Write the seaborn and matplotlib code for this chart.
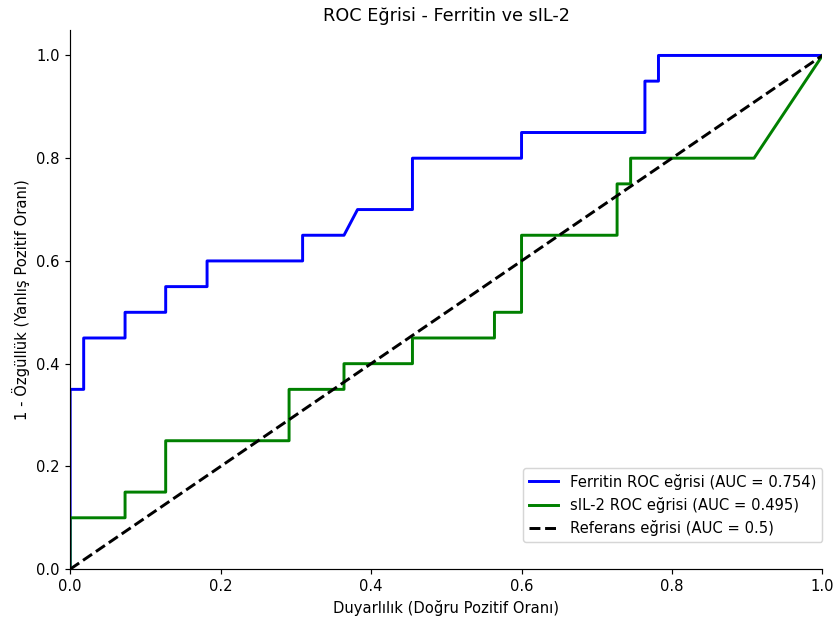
import seaborn as sns
import pandas as pd
import matplotlib
matplotlib.use('Agg')
import matplotlib.pyplot as plt

# ROC noktalari
ferritin_x = [0.0, 0.0, 0.018, 0.018, 0.073, 0.073, 0.127, 0.127, 0.182, 0.182,
              0.309, 0.309, 0.364, 0.382, 0.455, 0.455, 0.600, 0.600, 0.764, 0.764,
              0.782, 0.782, 1.0]
ferritin_y = [0.0, 0.35, 0.35, 0.45, 0.45, 0.50, 0.50, 0.55, 0.55, 0.60,
              0.60, 0.65, 0.65, 0.70, 0.70, 0.80, 0.80, 0.85, 0.85, 0.95,
              0.95, 1.0, 1.0]

sil2_x = [0.0, 0.0, 0.073, 0.073, 0.127, 0.127, 0.291, 0.291, 0.364, 0.364,
          0.455, 0.455, 0.564, 0.564, 0.600, 0.600, 0.727, 0.727, 0.745, 0.745,
          0.909, 1.0]
sil2_y = [0.0, 0.10, 0.10, 0.15, 0.15, 0.25, 0.25, 0.35, 0.35, 0.40,
          0.40, 0.45, 0.45, 0.50, 0.50, 0.65, 0.65, 0.75, 0.75, 0.80,
          0.80, 1.0]

ref_x = [0.0, 1.0]
ref_y = [0.0, 1.0]

auc_ferritin = 0.754
auc_sil2 = 0.495

dpi = 106
fig, ax = plt.subplots(figsize=(835 / dpi, 620 / dpi), dpi=dpi)
fig.subplots_adjust(left=0.084, right=0.985, bottom=0.082, top=0.952)

sns.lineplot(x=ferritin_x, y=ferritin_y, sort=False, estimator=None, color='blue',
             linewidth=2, label=f'Ferritin ROC eğrisi (AUC = {auc_ferritin})', ax=ax)
sns.lineplot(x=sil2_x, y=sil2_y, sort=False, estimator=None, color='green',
             linewidth=2, label=f'sIL-2 ROC eğrisi (AUC = {auc_sil2})', ax=ax)
ax.plot(ref_x, ref_y, color='black', linestyle='--', linewidth=2,
        label='Referans eğrisi (AUC = 0.5)')

ax.set_xlim(0, 1)
ax.set_ylim(0, 1.05)
ax.set_xlabel('Duyarlılık (Doğru Pozitif Oranı)')
ax.set_ylabel('1 - Özgüllük (Yanlış Pozitif Oranı)')
ax.set_title('ROC Eğrisi - Ferritin ve sIL-2')
ax.legend(loc='lower right', bbox_to_anchor=(1.0, 0.05), borderaxespad=0)
sns.despine()

plt.savefig('out.png')
